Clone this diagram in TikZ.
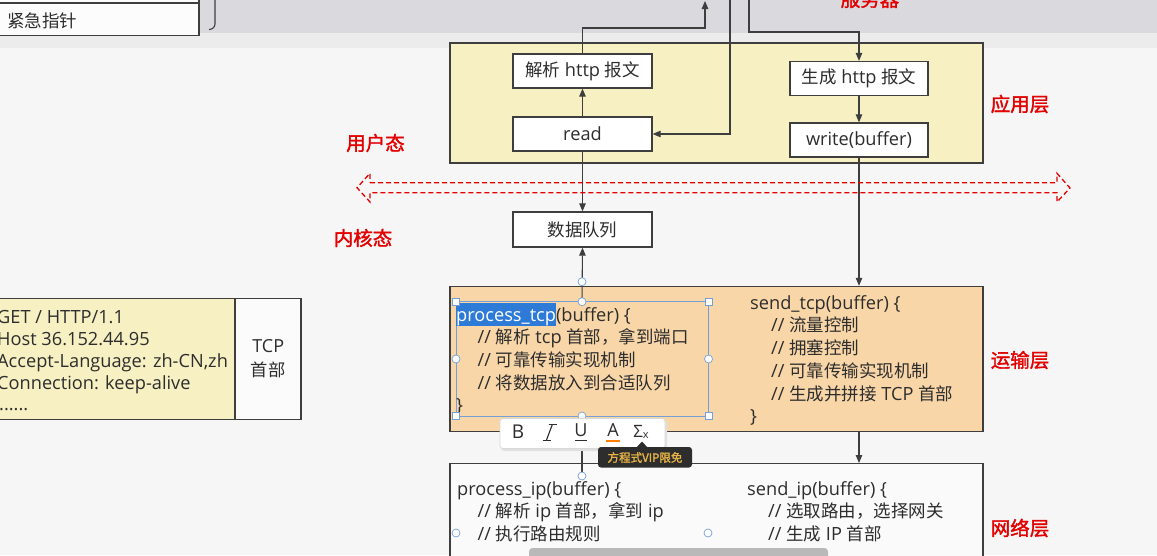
\documentclass[tikz,border=0pt]{standalone}
\usepackage{fontspec}
\setmainfont{Open Sans}
\newfontfamily\cjk[Scale=0.96]{Noto Sans CJK SC}
\newfontfamily\cjkplain{Noto Sans CJK SC}
\newfontfamily\cjkbold[FakeBold=1.6]{Noto Sans CJK SC}
\newcommand\zh[1]{{\cjk #1}}
\usetikzlibrary{arrows.meta}
\definecolor{bg}{RGB}{246,246,246}
\definecolor{band}{RGB}{218,218,222}
\definecolor{bandlight}{RGB}{236,236,236}
\definecolor{appc}{RGB}{246,240,194}
\definecolor{tcpc}{RGB}{248,214,168}
\definecolor{linec}{RGB}{62,62,62}
\definecolor{txt}{RGB}{45,45,45}
\definecolor{redc}{RGB}{226,0,0}
\definecolor{selblue}{RGB}{45,122,215}
\definecolor{handlec}{RGB}{115,160,215}
\definecolor{tipbg}{RGB}{45,45,45}
\definecolor{tipfg}{RGB}{232,180,70}
\definecolor{scrollc}{RGB}{185,185,185}
\newcommand\fs{\fontsize{18.2}{21}\selectfont}
\tikzset{
  layer/.style={draw=linec, line width=1.4pt, inner sep=0pt},
  stepbox/.style={draw=linec, fill=white, line width=1.3pt, inner sep=0pt,
    minimum width=139pt, minimum height=34pt, font=\fs, text=txt},
  arr/.style={draw=linec, line width=1.1pt, -{Triangle[length=8pt,width=6.5pt]}},
  plain/.style={draw=linec, line width=1.1pt},
  code/.style={anchor=base west, inner sep=0pt, font=\fs, text=txt},
  redlbl/.style={inner sep=0pt, font=\cjkbold\fontsize{19.5}{20}\selectfont, text=redc},
  handlebox/.style={draw=handlec, fill=white, line width=0.7pt},
}
\begin{document}
\begin{tikzpicture}[x=1pt,y=-1pt]
\useasboundingbox (0,0) rectangle (1157,555);
\clip (0,0) rectangle (1157,555);
% background
\fill[bg] (0,0) rectangle (1157,555);
\fill[bandlight] (0,33) rectangle (1157,48);
\fill[band] (0,0) rectangle (1157,33);

% top-left fragment
\node[draw=linec, fill=white!70!bg, line width=1.3pt, inner sep=0pt,
  minimum width=210pt, minimum height=20pt, anchor=south east] (above) at (199.5,3) {};
\node[draw=linec, fill=white!70!bg, line width=1.3pt, inner sep=0pt,
  minimum width=210pt, minimum height=32pt, anchor=north east] (urg) at (199.5,3) {};
\node[anchor=west, inner sep=0pt, font=\cjkplain\fontsize{17.5}{20}\selectfont, text=txt] (urgtext) at (7,20.5) {紧急指针};
\draw[linec, line width=1.1pt] (215,-2) -- (215,24) to[out=-90,in=0] (209,29.5);

\node[redlbl] (srv) at (870,-1) {服务器};

% application layer
\node[layer, fill=appc, minimum width=533pt, minimum height=120pt] (app) at (716.5,103) {};
\node[stepbox] (parse) at (582.5,71) {\zh{解析} http \zh{报文}};
\node[stepbox] (read) at (582.5,134) {read};
\node[stepbox, minimum width=138pt] (gen) at (859,78.5) {\zh{生成} http \zh{报文}};
\node[stepbox, minimum width=138pt] (write) at (859,140) {write(buffer)};
\node[stepbox, minimum height=35pt] (dq) at (582.5,229.5) {\zh{数据队列}};

% transport layer
\node[layer, fill=tcpc, minimum width=533pt, minimum height=145pt] (tl) at (716.5,359) {};
% network layer
\node[layer, fill=white!40!bg, minimum width=533pt, minimum height=200pt, anchor=north] (nl) at (716.5,463) {};

% connectors
\coordinate (upout) at (705,1);
\coordinate (downin) at (730,-3);
\coordinate (srvout) at (749,-3);
\coordinate (tcptop) at (582,301.7);
\coordinate (tcpbot) at (582,416);
\coordinate (iptop) at (582,476);
\draw[arr] (parse.north) |- (705,28) -- (upout);
\draw[arr] (downin) |- (read.east);
\draw[arr] (srvout) -- (749,32) -| (gen.north);
\draw[arr] (read.north) -- (parse.south);
\draw[arr] (gen.south) -- (write.north);
\draw[arr] (read.south) -- (dq.north);
\draw[arr] (write.south) -- (write.south |- tl.north);
\draw[arr] (tcptop) -- (dq.south);
\draw[arr] (write.south |- tl.south) -- (write.south |- nl.north);
\draw[plain] (iptop) -- (tcpbot);

% user/kernel boundary
\draw[redc, line width=1.3pt, dash pattern=on 5pt off 3pt, line join=miter]
  (370,182.7) -- (1057,182.7) -- (1057,173.3) -- (1070,188) -- (1057,202) -- (1057,192.7)
  -- (370,192.7) -- (370,202) -- (357,187.7) -- (370,173.3) -- cycle;

% labels
\node[redlbl] (lapp) at (1020,104) {应用层};
\node[redlbl] (ltcp) at (1020,360) {运输层};
\node[redlbl] (lip) at (1020,528) {网络层};
\node[redlbl] (luser) at (375.5,143) {用户态};
\node[redlbl] (lkern) at (363,238) {内核态};

% selection frame in transport layer
\draw[handlec, line width=0.6pt] (456,301.7) rectangle (708.5,416);

% transport code
\node[code] (t1) at (456,321) {{\fboxsep=0pt\colorbox{selblue}{\textcolor{white}{\rule[-4.5pt]{0pt}{22.5pt}process\_tcp}}}(buffer) \{};
\node[code] (t2) at (477.5,343.7) {// \zh{解析} tcp \zh{首部，拿到端口}};
\node[code] (t3) at (477.5,366.4) {// \zh{可靠传输实现机制}};
\node[code] (t4) at (477.5,389.1) {// \zh{将数据放入到合适队列}};
\node[code] (t5) at (456,411.8) {\}};
\node[code] (s1) at (750,309) {send\_tcp(buffer) \{};
\node[code] (s2) at (771,331.8) {// \zh{流量控制}};
\node[code] (s3) at (771,354.5) {// \zh{拥塞控制}};
\node[code] (s4) at (771,377.3) {// \zh{可靠传输实现机制}};
\node[code] (s5) at (771,400) {// \zh{生成并拼接} TCP \zh{首部}};
\node[code] (s6) at (750,422.8) {\}};

% network code
\node[code] (p1) at (457,495) {process\_ip(buffer) \{};
\node[code] (p2) at (477.5,517.5) {// \zh{解析} ip \zh{首部，拿到} ip};
\node[code] (p3) at (477.5,540) {// \zh{执行路由规则}};
\node[code] (q1) at (747,495) {send\_ip(buffer) \{};
\node[code] (q2) at (768,517.5) {// \zh{选取路由，选择网关}};
\node[code] (q3) at (768,540) {// \zh{生成} IP \zh{首部}};

% handles
\foreach \hx/\hy in {456/301.7, 708.5/301.7, 456/416, 708.5/416}
  \filldraw[handlebox] (\hx-3.5,\hy-3.5) rectangle (\hx+3.5,\hy+3.5);
\foreach \hx/\hy in {582/301.7, 582/281.7, 456/359, 708.5/359, 582/416, 582/476, 456/533, 708/533}
  \filldraw[handlebox] (\hx,\hy) circle (4pt);

% left HTTP packet
\node[draw=linec, fill=appc, line width=1.3pt, inner sep=0pt,
  minimum width=241pt, minimum height=121pt, anchor=east] (http) at (235.5,358.8) {};
\node[draw=linec, fill=white!60!bg, line width=1.3pt, inner sep=0pt,
  minimum width=65.5pt, minimum height=121pt, align=center, text=txt,
  font=\fontsize{18}{24}\selectfont] (tcph) at (268.25,358.8) {TCP\\\zh{首部}};
\node[code] (h1) at (-3,323) {GET / HTTP/1.1};
\node[code] (h2) at (-3,345) {Host 36.152.44.95};
\node[code] (h3) at (-3,367) {Accept-Language: zh-CN,zh};
\node[code] (h4) at (-3,389) {Connection: keep-alive};
\node[code] (h5) at (-1,410.5) {......};

% text toolbar
\fill[black!12, rounded corners=3pt] (501,420) rectangle (667,451);
\node[draw=black!15, fill=white, rounded corners=3pt, line width=0.6pt,
  minimum width=165pt, minimum height=30pt, inner sep=0pt] (tb) at (582.5,433.5) {};
\node[inner sep=0pt, font=\fontsize{19}{19}\selectfont, text=txt] (ib) at (518,432) {B};
\draw[txt, line width=1.1pt] (552.5,424) -- (546.5,440);
\draw[txt, line width=1pt] (548.5,424) -- (556.5,424) (542.5,440) -- (550.5,440);
\node[inner sep=0pt, font=\fontsize{18}{18}\selectfont, text=txt] (iu) at (581,430) {U};
\draw[txt, line width=1pt] (575,440.5) -- (587,440.5);
\node[inner sep=0pt, font=\fontsize{18}{18}\selectfont, text=txt] (ia) at (613,430) {A};
\draw[orange, line width=1.8pt] (606,441) -- (620,441);
\node[inner sep=0pt, font=\fontsize{17}{17}\selectfont, text=txt] (isig) at (641,432) {Σ\raisebox{-1pt}{\fontsize{11}{11}\selectfont x}};

% tooltip
\fill[tipbg, rounded corners=3pt] (598,447) rectangle (692,467.5);
\fill[tipbg] (636,448) -- (642,441.5) -- (648,448) -- cycle;
\node[inner sep=0pt, font=\cjkbold\fontsize{11.5}{12}\selectfont, text=tipfg] (tip) at (645,457.5) {方程式VIP限免};

% scrollbar
\fill[scrollc, rounded corners=3.5pt] (529,548) rectangle (828,562);
\end{tikzpicture}
\end{document}
